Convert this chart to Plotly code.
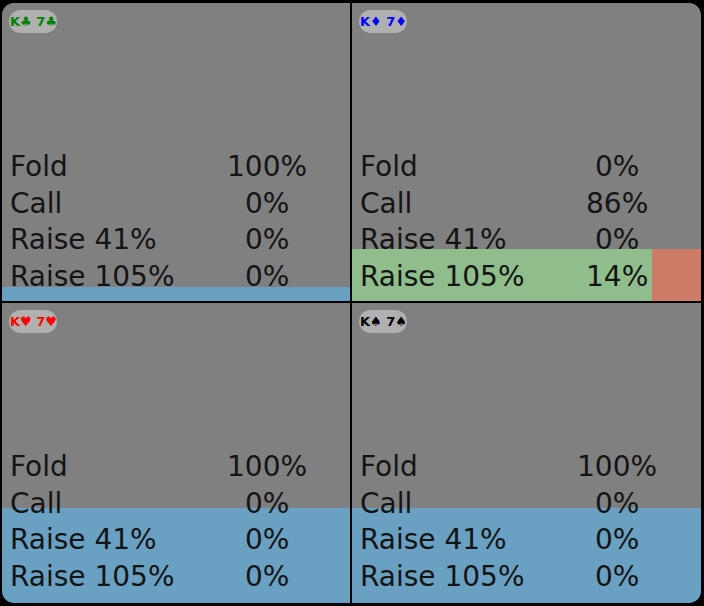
import plotly.graph_objects as go

# ---- data ----
combos = ["K♣ 7♣", "K♦ 7♦", "K♥ 7♥", "K♠ 7♠"]
combo_colors = ["#008000", "#0000ff", "#ff0000", "#000000"]
actions = ["Fold", "Call", "Raise 41%", "Raise 105%"]
action_colors = ["#6aa1c2", "#8fbd8b", "#e0957d", "#cd7b66"]
freq_tl = [1.00, 0.00, 0.00, 0.00]
freq_tr = [0.00, 0.86, 0.00, 0.14]
freq_bl = [1.00, 0.00, 0.00, 0.00]
freq_br = [1.00, 0.00, 0.00, 0.00]
freqs = [freq_tl, freq_tr, freq_bl, freq_br]
weights = [0.047, 0.175, 0.317, 0.317]

# ---- layout constants (pixels) ----
W, H = 704, 606
panels = [  # x0, x1, y0(top), y1(bottom)
    (2, 350, 3, 301),
    (352, 701, 3, 301),
    (2, 350, 303, 603),
    (352, 701, 303, 603),
]
FONT = "DejaVu Sans"


def PX(x):
    return x / W


def PY(y):
    return 1 - y / H


fig = go.Figure()
layout = dict(
    width=W, height=H, margin=dict(l=0, r=0, t=0, b=0, pad=0),
    paper_bgcolor="#000000", plot_bgcolor="#808080",
    showlegend=False, bargap=0, barmode="overlay",
)

for i, (x0, x1, y0, y1) in enumerate(panels):
    n = i + 1
    xa = "x" if n == 1 else f"x{n}"
    ya = "y" if n == 1 else f"y{n}"
    layout["xaxis" if n == 1 else f"xaxis{n}"] = dict(
        domain=[x0 / W, x1 / W], range=[0, 1], visible=False, fixedrange=True,
        anchor=ya)
    layout["yaxis" if n == 1 else f"yaxis{n}"] = dict(
        domain=[1 - y1 / H, 1 - y0 / H], range=[0, 1], visible=False,
        fixedrange=True, anchor=xa)
    cum = 0.0
    for a, f in enumerate(freqs[i]):
        if f > 0:
            fig.add_trace(go.Bar(
                orientation="h", x=[f], base=[cum], y=[weights[i] / 2],
                width=[weights[i]], marker=dict(color=action_colors[a], line=dict(width=0)),
                opacity=1, xaxis=xa, yaxis=ya, hoverinfo="skip", cliponaxis=True))
        cum += f

K = 0.5523
shapes = []
annotations = []


def path_str(cmds):
    out = []
    for c in cmds:
        if c[0] == "Z":
            out.append("Z")
        else:
            pts = " ".join(f"{PX(c[k]):.6f},{PY(c[k + 1]):.6f}" for k in range(1, len(c), 2))
            out.append(f"{c[0]} {pts}")
    return " ".join(out)


def corner_mask(cx, cy, sx, sy, r):
    ox, oy = cx - sx * 4, cy - sy * 4
    cmds = [("M", ox, oy), ("L", cx + sx * r, oy), ("L", cx + sx * r, cy),
            ("C", cx + sx * r * (1 - K), cy, cx, cy + sy * r * (1 - K), cx, cy + sy * r),
            ("L", ox, cy + sy * r), ("Z",)]
    return dict(type="path", path=path_str(cmds), xref="paper", yref="paper",
                fillcolor="#000000", line=dict(width=0), layer="above")


R = 12
shapes.append(corner_mask(2, 3, 1, 1, R))
shapes.append(corner_mask(701, 3, -1, 1, R))
shapes.append(corner_mask(2, 603, 1, -1, R))
shapes.append(corner_mask(701, 603, -1, -1, R))


def pill(x0, y0, x1, y1):
    r = (y1 - y0) / 2
    k = r * (1 - K)
    cmds = [("M", x0 + r, y0), ("L", x1 - r, y0),
            ("C", x1 - k, y0, x1, y0 + k, x1, y0 + r),
            ("C", x1, y1 - k, x1 - k, y1, x1 - r, y1),
            ("L", x0 + r, y1),
            ("C", x0 + k, y1, x0, y1 - k, x0, y0 + r),
            ("C", x0, y0 + k, x0 + k, y0, x0 + r, y0), ("Z",)]
    return dict(type="path", path=path_str(cmds), xref="paper", yref="paper",
                fillcolor="#b0b0b0", line=dict(width=0), layer="above")


ROW0 = 163.5
ROWSTEP = 36.7
for i, (x0, x1, y0, y1) in enumerate(panels):
    shapes.append(pill(x0 + 7, y0 + 7, x0 + 55, y0 + 30))
    annotations.append(dict(
        x=PX(x0 + 31.5), y=PY(y0 + 18.5), xref="paper", yref="paper",
        text=f"<b>{combos[i]}</b>",
        showarrow=False, xanchor="center", yanchor="middle",
        font=dict(family=FONT, size=13, color=combo_colors[i])))
    for a, name in enumerate(actions):
        yy = y0 + ROW0 + a * ROWSTEP
        annotations.append(dict(
            x=PX(x0 + 6), y=PY(yy), xref="paper", yref="paper", text=name,
            showarrow=False, xanchor="left", yanchor="middle",
            font=dict(family=FONT, size=28, color="#141414")))
        annotations.append(dict(
            x=PX(x0 + 265), y=PY(yy), xref="paper", yref="paper",
            text=f"{round(freqs[i][a] * 100)}%",
            showarrow=False, xanchor="center", yanchor="middle",
            font=dict(family=FONT, size=28, color="#141414")))

layout["shapes"] = shapes
layout["annotations"] = annotations
fig.update_layout(**layout)
fig.write_html("out.html", config={"displayModeBar": False},
               post_script="document.body.style.margin='0';")
